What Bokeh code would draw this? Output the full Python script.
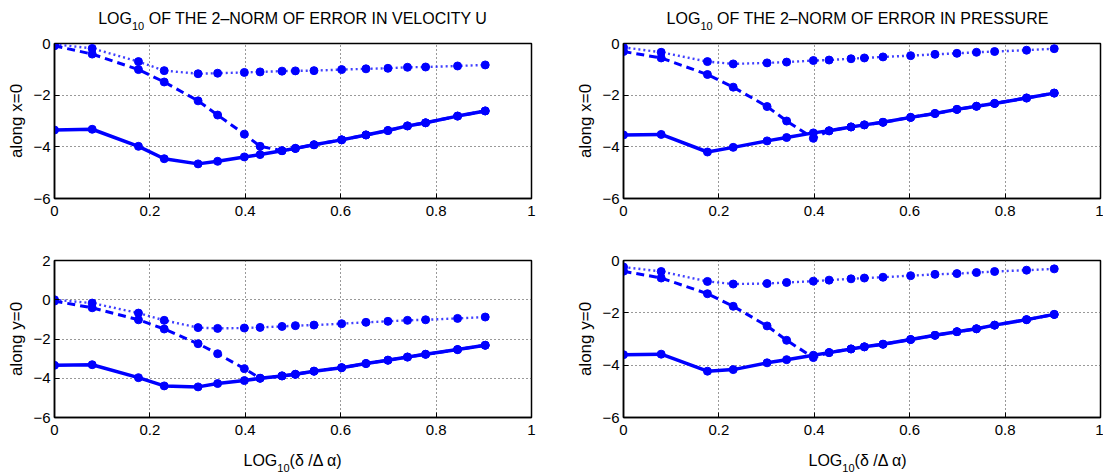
from bokeh.plotting import figure
from bokeh.models import Range1d, FixedTicker, Div
from bokeh.layouts import column, row
from bokeh.embed import file_html
from bokeh.resources import INLINE

# ---------------- data ----------------
x_vals = [0, 0.079, 0.176, 0.230, 0.301, 0.342, 0.398, 0.431, 0.477, 0.505,
          0.544, 0.602, 0.653, 0.699, 0.740, 0.778, 0.845, 0.903]

# velocity u, along x=0
u_x_solid = [-3.35, -3.32, -3.98, -4.46, -4.66, -4.56, -4.39, -4.30, -4.15, -4.06,
             -3.92, -3.73, -3.54, -3.37, -3.19, -3.07, -2.81, -2.61]
u_x_dashed = [-0.09, -0.41, -1.01, -1.49, -2.22, -2.77, -3.51, -3.98, -4.15, -4.06,
              -3.92, -3.73, -3.54, -3.37, -3.19, -3.07, -2.81, -2.61]
u_x_dotted = [-0.03, -0.19, -0.70, -1.05, -1.17, -1.15, -1.12, -1.10, -1.07, -1.06,
              -1.05, -1.01, -0.98, -0.96, -0.92, -0.91, -0.87, -0.83]

# pressure, along x=0
p_x_solid = [-3.54, -3.52, -4.20, -4.02, -3.77, -3.64, -3.46, -3.38, -3.23, -3.15,
             -3.05, -2.86, -2.71, -2.55, -2.43, -2.32, -2.11, -1.92]
p_x_dashed = [-0.31, -0.56, -1.20, -1.69, -2.44, -3.00, -3.67, -3.38, -3.23, -3.15,
              -3.05, -2.86, -2.71, -2.55, -2.43, -2.32, -2.11, -1.92]
p_x_dotted = [-0.15, -0.34, -0.70, -0.79, -0.75, -0.72, -0.66, -0.64, -0.59, -0.56,
              -0.52, -0.47, -0.42, -0.38, -0.34, -0.31, -0.26, -0.20]

# velocity u, along y=0
u_y_solid = [-3.34, -3.31, -3.97, -4.39, -4.44, -4.27, -4.12, -4.00, -3.88, -3.80,
             -3.64, -3.46, -3.25, -3.08, -2.92, -2.78, -2.54, -2.32]
u_y_dashed = [-0.07, -0.41, -1.02, -1.49, -2.24, -2.75, -3.51, -4.00, -3.88, -3.80,
              -3.64, -3.46, -3.25, -3.08, -2.92, -2.78, -2.54, -2.32]
u_y_dotted = [0.0, -0.17, -0.68, -1.05, -1.42, -1.46, -1.44, -1.41, -1.36, -1.32,
              -1.29, -1.22, -1.15, -1.10, -1.05, -1.02, -0.95, -0.88]

# pressure, along y=0
p_y_solid = [-3.60, -3.58, -4.23, -4.17, -3.91, -3.79, -3.62, -3.52, -3.38, -3.30,
             -3.20, -3.02, -2.86, -2.72, -2.61, -2.47, -2.26, -2.06]
p_y_dashed = [-0.41, -0.67, -1.27, -1.75, -2.50, -3.05, -3.71, -3.52, -3.38, -3.30,
              -3.20, -3.02, -2.86, -2.72, -2.61, -2.47, -2.26, -2.06]
p_y_dotted = [-0.25, -0.42, -0.80, -0.90, -0.88, -0.84, -0.79, -0.75, -0.70, -0.67,
              -0.64, -0.58, -0.53, -0.50, -0.46, -0.42, -0.37, -0.32]

x_ticks = [0, 0.2, 0.4, 0.6, 0.8, 1]
x_tick_labels = ["0", "0.2", "0.4", "0.6", "0.8", "1"]
y_ticks_a = [-6, -4, -2, 0]
y_tick_labels_a = ["\u22126", "\u22124", "\u22122", "0"]
y_ticks_b = [-6, -4, -2, 0, 2]
y_tick_labels_b = ["\u22126", "\u22124", "\u22122", "0", "2"]

title_u = "OF THE 2\u2013NORM OF ERROR IN VELOCITY U"
title_p = "OF THE 2\u2013NORM OF ERROR IN PRESSURE"
ylab_x = "along x=0"
ylab_y = "along y=0"
xlab_tail = "(\u03b4 /\u0394 \u03b1)"

FONT = "Liberation Sans"
BLUE = "#0000ff"
FW = 477


def make_panel(solid, dashed, dotted, yr, yt, ytl, fh, bl, br, bt, bb, ylab):
    p = figure(frame_width=FW, frame_height=fh, min_border_left=bl, min_border_right=br,
               min_border_top=bt, min_border_bottom=bb, x_range=Range1d(0, 1),
               y_range=Range1d(*yr), output_backend="svg", toolbar_location=None,
               title=None, background_fill_color="white", border_fill_color="white")
    p.outline_line_color = "black"
    p.outline_line_width = 1.5
    p.outline_line_alpha = 1.0
    p.xaxis.ticker = FixedTicker(ticks=x_ticks)
    p.yaxis.ticker = FixedTicker(ticks=yt)
    p.xaxis.major_label_overrides = dict(zip(x_ticks, x_tick_labels))
    p.yaxis.major_label_overrides = dict(zip(yt, ytl))
    for ax in (p.xaxis, p.yaxis):
        ax.axis_line_color = "black"
        ax.axis_line_width = 1.5
        ax.major_tick_in = 5
        ax.major_tick_out = 0
        ax.major_tick_line_color = "black"
        ax.minor_tick_line_color = None
        ax.major_label_text_font = FONT
        ax.major_label_text_font_size = "15px"
        ax.major_label_text_color = "black"
    p.xaxis.major_label_standoff = 7
    p.yaxis.major_label_standoff = 4
    p.yaxis.axis_label = ylab
    p.yaxis.axis_label_text_font = FONT
    p.yaxis.axis_label_text_font_size = "17px"
    p.yaxis.axis_label_text_font_style = "normal"
    p.yaxis.axis_label_text_color = "black"
    p.yaxis.axis_label_standoff = 4
    p.grid.grid_line_color = "#333333"
    p.grid.grid_line_dash = "1 3"
    p.grid.grid_line_width = 1

    p.line(x_vals, dotted, line_color=BLUE, line_width=2.4, line_dash="2 3", line_alpha=0.75)
    p.scatter(x_vals, dotted, size=8, fill_color=BLUE, line_color=BLUE)
    p.line(x_vals, dashed, line_color=BLUE, line_width=3, line_dash="8 5")
    p.scatter(x_vals, dashed, size=8, fill_color=BLUE, line_color=BLUE)
    p.line(x_vals, solid, line_color=BLUE, line_width=3.5)
    p.scatter(x_vals, solid, size=8, fill_color=BLUE, line_color=BLUE)
    return p


def text_div(html, width, height, pad_top, left):
    inner = (f"<div style=\"width:{FW}px;margin-left:{left}px;padding-top:{pad_top}px;"
             f"text-align:center;white-space:nowrap;font-family:'{FONT}';"
             f"font-size:16px;line-height:17px;color:black\">{html}</div>")
    return Div(text=inner, width=width, height=height, margin=0)


def sub_html(main, rest):
    return (f"{main}<sub style=\"font-size:11px;line-height:0;position:relative;"
            f"top:2px\">10</sub>{rest}")


BL1, BR1 = 54, 42
BL2, BR2 = 46, 3
W1 = BL1 + FW + BR1
W2 = BL2 + FW + BR2

p1 = make_panel(u_x_solid, u_x_dashed, u_x_dotted, (-6, 0), y_ticks_a, y_tick_labels_a,
                155, BL1, BR1, 9, 36, ylab_x)
p2 = make_panel(p_x_solid, p_x_dashed, p_x_dotted, (-6, 0), y_ticks_a, y_tick_labels_a,
                155, BL2, BR2, 9, 36, ylab_x)
p3 = make_panel(u_y_solid, u_y_dashed, u_y_dotted, (-6, 2), y_ticks_b, y_tick_labels_b,
                157, BL1, BR1, 26, 27, ylab_y)
p4 = make_panel(p_y_solid, p_y_dashed, p_y_dotted, (-6, 0), y_ticks_a, y_tick_labels_a,
                157, BL2, BR2, 26, 27, ylab_y)

t1 = text_div(sub_html("LOG", " " + title_u), W1, 34, 10, BL1)
t2 = text_div(sub_html("LOG", " " + title_p), W2, 34, 10, BL2)
x3 = text_div(sub_html("LOG", xlab_tail), W1, 24, 8, BL1)
x4 = text_div(sub_html("LOG", xlab_tail), W2, 24, 8, BL2)

layout = column(row(t1, t2), row(p1, p2), row(p3, p4), row(x3, x4))

open("out.html", "w").write(file_html(layout, INLINE))
